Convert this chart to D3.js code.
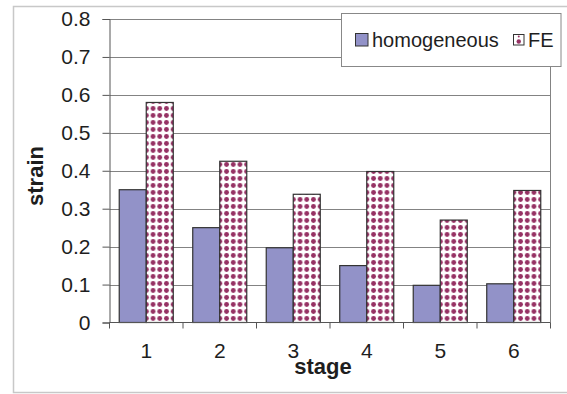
<!DOCTYPE html>
<html>
<head>
<meta charset="utf-8">
<script src="https://cdn.jsdelivr.net/npm/d3@7"></script>
<style>
  html, body { margin: 0; padding: 0; background: #fff; }
  svg { display: block; font-family: Arial, "Liberation Sans", sans-serif; }
</style>
</head>
<body>
<svg id="chart" width="567" height="394"></svg>
<script>
// Strain per deformation stage, two models
const stages = ["1", "2", "3", "4", "5", "6"];
const seriesNames = ["homogeneous", "FE"];
const homogeneous = [0.35, 0.25, 0.197, 0.15, 0.098, 0.102];
const fe = [0.58, 0.425, 0.338, 0.398, 0.27, 0.348];
const yTicks = [0, 0.1, 0.2, 0.3, 0.4, 0.5, 0.6, 0.7, 0.8];

const svg = d3.select("#chart");
const W = 567, H = 394;
const plot = { left: 109.5, right: 550.5, top: 19, bottom: 322.5 };

const homColor = "#9292c8";
const dotColor = "#963264";

// Dotted fill for the FE bars
const defs = svg.append("defs");
const pat = defs.append("pattern")
  .attr("id", "dots")
  .attr("patternUnits", "userSpaceOnUse")
  .attr("width", 6.7).attr("height", 7);
pat.append("rect").attr("width", 6.7).attr("height", 7).attr("fill", "#fff");
pat.append("circle").attr("cx", 3.35).attr("cy", 3.5).attr("r", 2.4).attr("fill", dotColor);

// Outer chart frame
svg.append("rect")
  .attr("x", 13.5).attr("y", 6.5)
  .attr("width", W).attr("height", 386)
  .attr("fill", "#fff").attr("stroke", "#c8c8c8").attr("stroke-width", 1.5);

const x0 = d3.scaleBand().domain(stages).range([plot.left, plot.right]).padding(0);
const bw = x0.bandwidth();
const groupW = bw * 0.735;
const x1 = d3.scaleBand().domain(seriesNames)
  .range([(bw - groupW) / 2, (bw + groupW) / 2]).padding(0);
const y = d3.scaleLinear().domain([0, 0.8]).range([plot.bottom, plot.top]);

// Gridlines
svg.append("g").selectAll("line")
  .data(yTicks.filter(t => t > 0))
  .join("line")
  .attr("x1", plot.left).attr("x2", plot.right)
  .attr("y1", d => Math.round(y(d)) + 0.5).attr("y2", d => Math.round(y(d)) + 0.5)
  .attr("stroke", "#838383").attr("stroke-width", 1);

// Right edge of plot area
svg.append("line")
  .attr("x1", plot.right).attr("x2", plot.right)
  .attr("y1", plot.top).attr("y2", plot.bottom)
  .attr("stroke", "#838383");

// Bars
const rows = stages.map((s, i) => ({ stage: s, values: [
  { key: "homogeneous", v: homogeneous[i] },
  { key: "FE", v: fe[i] }
]}));

const groups = svg.append("g").selectAll("g")
  .data(rows).join("g")
  .attr("transform", d => `translate(${x0(d.stage)},0)`);

groups.selectAll("rect")
  .data(d => d.values)
  .join("rect")
  .attr("x", d => x1(d.key))
  .attr("width", x1.bandwidth())
  .attr("y", d => y(d.v))
  .attr("height", d => y(0) - y(d.v))
  .attr("fill", d => d.key === "FE" ? "url(#dots)" : homColor)
  .attr("stroke", "#333")
  .attr("stroke-width", 1.2);

// Y axis
const yAxis = d3.axisLeft(y).tickValues(yTicks).tickSize(7).tickPadding(12)
  .tickFormat(d => d === 0 ? "0" : d3.format(".1f")(d));
const gy = svg.append("g").attr("transform", `translate(${plot.left},0)`).call(yAxis);
gy.select(".domain").attr("stroke", "#555");
gy.selectAll(".tick line").attr("stroke", "#555");
gy.selectAll("text").attr("font-size", 21).attr("fill", "#1e1e1e")
  .attr("font-family", "Arial, 'Liberation Sans', sans-serif");

// X axis: ticks on category boundaries, labels centered
const gx = svg.append("g").attr("transform", `translate(0,${plot.bottom})`);
gx.append("line").attr("x1", plot.left).attr("x2", plot.right)
  .attr("stroke", "#555");
const bounds = stages.map(s => x0(s)).concat([plot.right]);
gx.selectAll("line.tk").data(bounds).join("line").attr("class", "tk")
  .attr("x1", d => d).attr("x2", d => d).attr("y1", 0).attr("y2", 6)
  .attr("stroke", "#555");
gx.selectAll("text").data(stages).join("text")
  .attr("x", d => x0(d) + bw / 2)
  .attr("y", 35)
  .attr("text-anchor", "middle")
  .attr("font-size", 21).attr("fill", "#1e1e1e")
  .text(d => d);

// Axis titles
svg.append("text")
  .attr("transform", "translate(43,176) rotate(-90)")
  .attr("text-anchor", "middle")
  .attr("font-size", 22).attr("font-weight", "bold").attr("fill", "#1e1e1e")
  .text("strain");
svg.append("text")
  .attr("x", 323).attr("y", 374)
  .attr("text-anchor", "middle")
  .attr("font-size", 22).attr("font-weight", "bold").attr("fill", "#1e1e1e")
  .text("stage");

// Legend
const lg = svg.append("g");
lg.append("rect")
  .attr("x", 341.5).attr("y", 13.5).attr("width", 219.5).attr("height", 53)
  .attr("fill", "#fff").attr("stroke", "#888").attr("stroke-width", 1);
lg.append("rect")
  .attr("x", 355.5).attr("y", 33.5).attr("width", 12.5).attr("height", 12.5)
  .attr("fill", homColor).attr("stroke", "#333");
lg.append("text").attr("x", 372).attr("y", 46.5)
  .attr("font-size", 20).attr("fill", "#1e1e1e").text(seriesNames[0]);
lg.append("rect")
  .attr("x", 513.5).attr("y", 34.5).attr("width", 10.5).attr("height", 10.5)
  .attr("fill", "#fff").attr("stroke", "#333");
lg.append("circle").attr("cx", 518.75).attr("cy", 41.5).attr("r", 2.2).attr("fill", dotColor);
lg.append("circle").attr("cx", 518.75).attr("cy", 36.5).attr("r", 1).attr("fill", dotColor);
lg.append("text").attr("x", 528).attr("y", 46.5)
  .attr("font-size", 20).attr("fill", "#1e1e1e").text(seriesNames[1]);
</script>
</body>
</html>
